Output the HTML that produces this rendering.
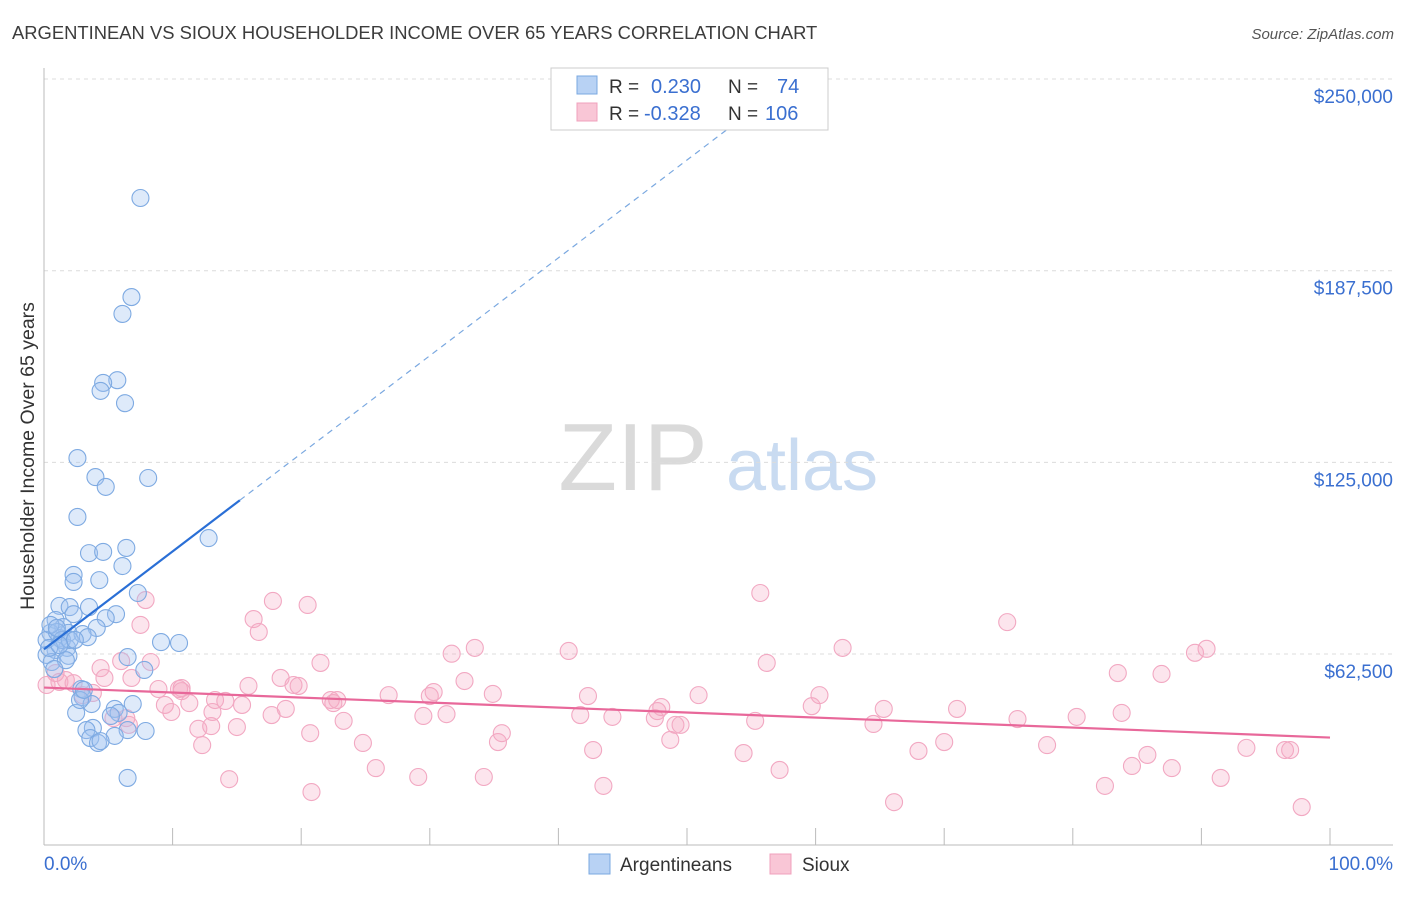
<!DOCTYPE html>
<html><head><meta charset="utf-8">
<style>
body{margin:0;background:#fff;font-family:"Liberation Sans",sans-serif;}
svg text{font-family:"Liberation Sans",sans-serif;}
</style></head>
<body>
<svg id="chart" width="1406" height="892" xmlns="http://www.w3.org/2000/svg">
<text x="12" y="39" font-size="18.4" fill="#3c3c3c">ARGENTINEAN VS SIOUX HOUSEHOLDER INCOME OVER 65 YEARS CORRELATION CHART</text>
<text x="1394" y="39" font-size="15" fill="#555" font-style="italic" text-anchor="end">Source: ZipAtlas.com</text>
<text transform="translate(34,456) rotate(-90)" font-size="19.5" fill="#333" text-anchor="middle">Householder Income Over 65 years</text>
<g>
<text x="633" y="490" font-size="96" font-family="Liberation Serif,serif" fill="#dadada" text-anchor="middle">ZIP</text>
<text x="802" y="490" font-size="72" fill="#c9dbf1" text-anchor="middle">atlas</text>
</g>
<g id="grid"></g>
<g id="axes"></g>
<g id="pts"></g>
<g id="trend"></g>
<g>
<rect x="551" y="68" width="277" height="62" fill="#fff" stroke="#ccc"/>
<rect x="577" y="76" width="20" height="18" fill="#b8d2f4" stroke="#7aa8e0"/>
<rect x="577" y="103" width="20" height="18" fill="#f9c6d6" stroke="#f0a0bc"/>
<text x="609" y="93" font-size="19" fill="#333">R =</text>
<text x="651" y="93" font-size="20" fill="#3a6fd0">0.230</text>
<text x="728" y="93" font-size="19" fill="#333">N =</text>
<text x="777" y="93" font-size="20" fill="#3a6fd0">74</text>
<text x="609" y="120" font-size="19" fill="#333">R =</text>
<text x="644" y="120" font-size="20" fill="#3a6fd0">-0.328</text>
<text x="728" y="120" font-size="19" fill="#333">N =</text>
<text x="765" y="120" font-size="20" fill="#3a6fd0">106</text>
</g>
<g>
<rect x="589" y="854" width="21" height="20" fill="#b8d2f4" stroke="#7aa8e0"/>
<text x="620" y="871" font-size="19" fill="#333">Argentineans</text>
<rect x="770" y="854" width="21" height="20" fill="#f9c6d6" stroke="#f0a0bc"/>
<text x="802" y="871" font-size="19" fill="#333">Sioux</text>
</g>
</svg>
<script>
const yTicks=[62500,125000,187500,250000];
const yTickLabels=["$62,500","$125,000","$187,500","$250,000"];
const blueX=[7.5,6.8,6.1,5.7,4.6,4.4,6.3,2.6,4.0,8.1,4.8,2.6,12.8,6.4,3.5,4.6,6.1,2.3,2.3,4.3,7.3,1.2,3.5,2.0,5.6,2.3,4.8,0.9,4.1,1.5,0.5,1.9,3.0,3.4,1.2,0.2,9.1,10.5,1.8,0.9,0.2,6.5,1.9,7.8,2.9,3.0,3.7,2.5,6.9,5.5,5.8,5.2,3.8,3.3,6.5,7.9,5.5,3.6,4.2,4.4,6.5,1.0,1.4,2.0,0.5,1.0,2.4,0.6,0.4,1.7,1.2,0.8,2.8,3.1];
const blueY=[211.2,178.9,173.4,151.8,150.9,148.3,144.3,126.4,120.2,119.9,117.0,107.2,100.3,97.1,95.4,95.8,91.2,88.3,86.0,86.6,82.4,78.2,77.8,77.8,75.5,75.5,74.2,73.6,71.0,71.3,69.4,69.4,69.0,68.0,67.7,67.1,66.4,66.1,64.5,63.8,62.2,61.5,61.9,57.3,51.1,48.5,46.2,43.3,46.2,44.6,43.3,42.3,38.4,37.7,37.7,37.4,35.8,35.1,33.5,34.1,22.1,69.7,67.1,67.1,72.0,71.0,67.1,59.9,64.5,60.5,65.4,57.6,47.5,50.8];
const pinkX=[0.2,0.9,1.2,1.7,2.3,3.0,3.8,4.4,4.7,5.4,6.0,6.4,6.6,6.8,7.5,7.9,8.3,8.9,9.4,9.9,10.5,10.7,10.7,11.3,12.0,12.3,13.0,13.1,13.3,14.1,14.4,15.0,15.4,15.9,16.3,16.7,17.7,17.8,18.4,18.8,19.4,19.8,20.5,20.7,20.8,21.5,22.3,22.5,22.8,23.3,24.8,25.8,26.8,29.1,29.5,30.0,30.3,31.3,31.7,32.7,33.5,34.2,34.9,35.3,35.6,40.8,41.7,42.3,42.7,43.5,44.2,47.5,47.7,48.0,48.7,49.1,49.5,50.9,54.4,55.3,55.7,56.2,57.2,59.7,60.3,62.1,64.5,65.3,66.1,68.0,70.0,71.0,74.9,75.7,78.0,80.3,82.5,83.5,83.8,84.6,85.8,86.9,87.7,89.5,90.4,91.5,93.5,96.5,96.9,97.8];
const pinkY=[52.4,56.3,53.4,54.0,53.0,49.1,49.8,57.9,54.7,41.6,60.2,41.6,39.4,54.7,72.0,80.1,59.9,51.1,45.9,43.6,51.1,51.4,50.4,46.5,38.1,32.8,39.0,43.6,47.5,47.2,21.7,38.7,45.9,52.1,73.9,69.7,42.6,79.8,54.7,44.6,52.4,52.1,78.5,36.7,17.5,59.6,47.5,46.5,47.5,40.7,33.5,25.3,49.1,22.4,42.3,48.8,50.1,42.9,62.6,53.7,64.5,22.4,49.5,33.8,36.7,63.5,42.6,48.8,31.2,19.5,42.0,41.6,43.9,45.2,34.5,39.4,39.4,49.1,30.2,40.7,82.4,59.6,24.7,45.5,49.1,64.5,39.7,44.6,14.2,30.9,33.8,44.6,72.9,41.3,32.8,42.0,19.5,56.3,43.3,26.0,29.6,56.0,25.3,62.9,64.2,22.1,31.9,31.2,31.2,12.6];

const NS="http://www.w3.org/2000/svg";
const X0=44,X1=1330,YB=845.7,PXK=191.67/62.5;
function sx(p){return X0+(X1-X0)*p/100;}
function sy(k){return YB-k*PXK;}
function mk(tag,attrs,parent){const e=document.createElementNS(NS,tag);for(const k in attrs)e.setAttribute(k,attrs[k]);parent.appendChild(e);return e;}
const grid=document.getElementById('grid'),axes=document.getElementById('axes'),pts=document.getElementById('pts'),trend=document.getElementById('trend');
yTicks.forEach((v,i)=>{
  const y=sy(v/1000);
  const l=mk('line',{x1:44,x2:1393,y1:y,y2:y,stroke:'#dcdcdc','stroke-dasharray':'4,4'},grid);
  
  
  const t=mk('text',{x:1393,y:y+24,'font-size':19,fill:'#3a6fd0','text-anchor':'end'},axes);
  t.textContent=yTickLabels[i];
  
  
});
const la=mk('line',{x1:44,x2:44,y1:68,y2:845,stroke:'#bbb'},axes);


const lb=mk('line',{x1:44,x2:1393,y1:845,y2:845,stroke:'#bbb'},axes);


for(let i=0;i<=10;i++){
  const x=sx(i*10);
  const tk=mk('line',{x1:x,x2:x,y1:828,y2:845,stroke:'#bbb'},axes);
  
  
}
const xl0=mk('text',{x:44,y:870,'font-size':19,fill:'#3a6fd0'},axes);xl0.textContent='0.0%';


const xl1=mk('text',{x:1393,y:870,'font-size':19,fill:'#3a6fd0','text-anchor':'end'},axes);xl1.textContent='100.0%';



function dots(xs,ys,fill,stroke,name){
  xs.forEach((x,i)=>{
    const c=mk('circle',{cx:sx(x),cy:sy(ys[i]),r:8.5,fill:fill,stroke:stroke,'stroke-width':1.1},pts);
    
    
  });
}
dots(pinkX,pinkY,'rgba(245,170,195,0.3)','#f2a8c2','sioux-point');
dots(blueX,blueY,'rgba(160,196,240,0.35)','#7eaae2','argentinean-point');

function fit(xs,ys){const n=xs.length;let mx=0,my=0;xs.forEach((x,i)=>{mx+=x;my+=ys[i];});mx/=n;my/=n;let sxy=0,sxx=0;xs.forEach((x,i)=>{sxy+=(x-mx)*(ys[i]-my);sxx+=(x-mx)*(x-mx);});const b=sxy/sxx;return [my-b*mx,b];}
const [pa,pb]=fit(pinkX,pinkY);
const pl=mk('line',{x1:sx(0),y1:sy(pa),x2:sx(100),y2:sy(pa+pb*100),stroke:'#e8689a','stroke-width':2.2},trend);


const [ba,bb]=fit(blueX,blueY);
const bmax=Math.max(...blueX)*1.19;
const bl=mk('line',{x1:sx(0),y1:sy(ba),x2:sx(bmax),y2:sy(ba+bb*bmax),stroke:'#2a6fd6','stroke-width':2.2},trend);


let xe=(250-ba)/bb; if(xe>100)xe=100;
const bd=mk('line',{x1:sx(bmax),y1:sy(ba+bb*bmax),x2:sx(xe),y2:sy(ba+bb*xe),stroke:'#7aa8e0','stroke-width':1.2,'stroke-dasharray':'6,5'},trend);


</script>
</body></html>
